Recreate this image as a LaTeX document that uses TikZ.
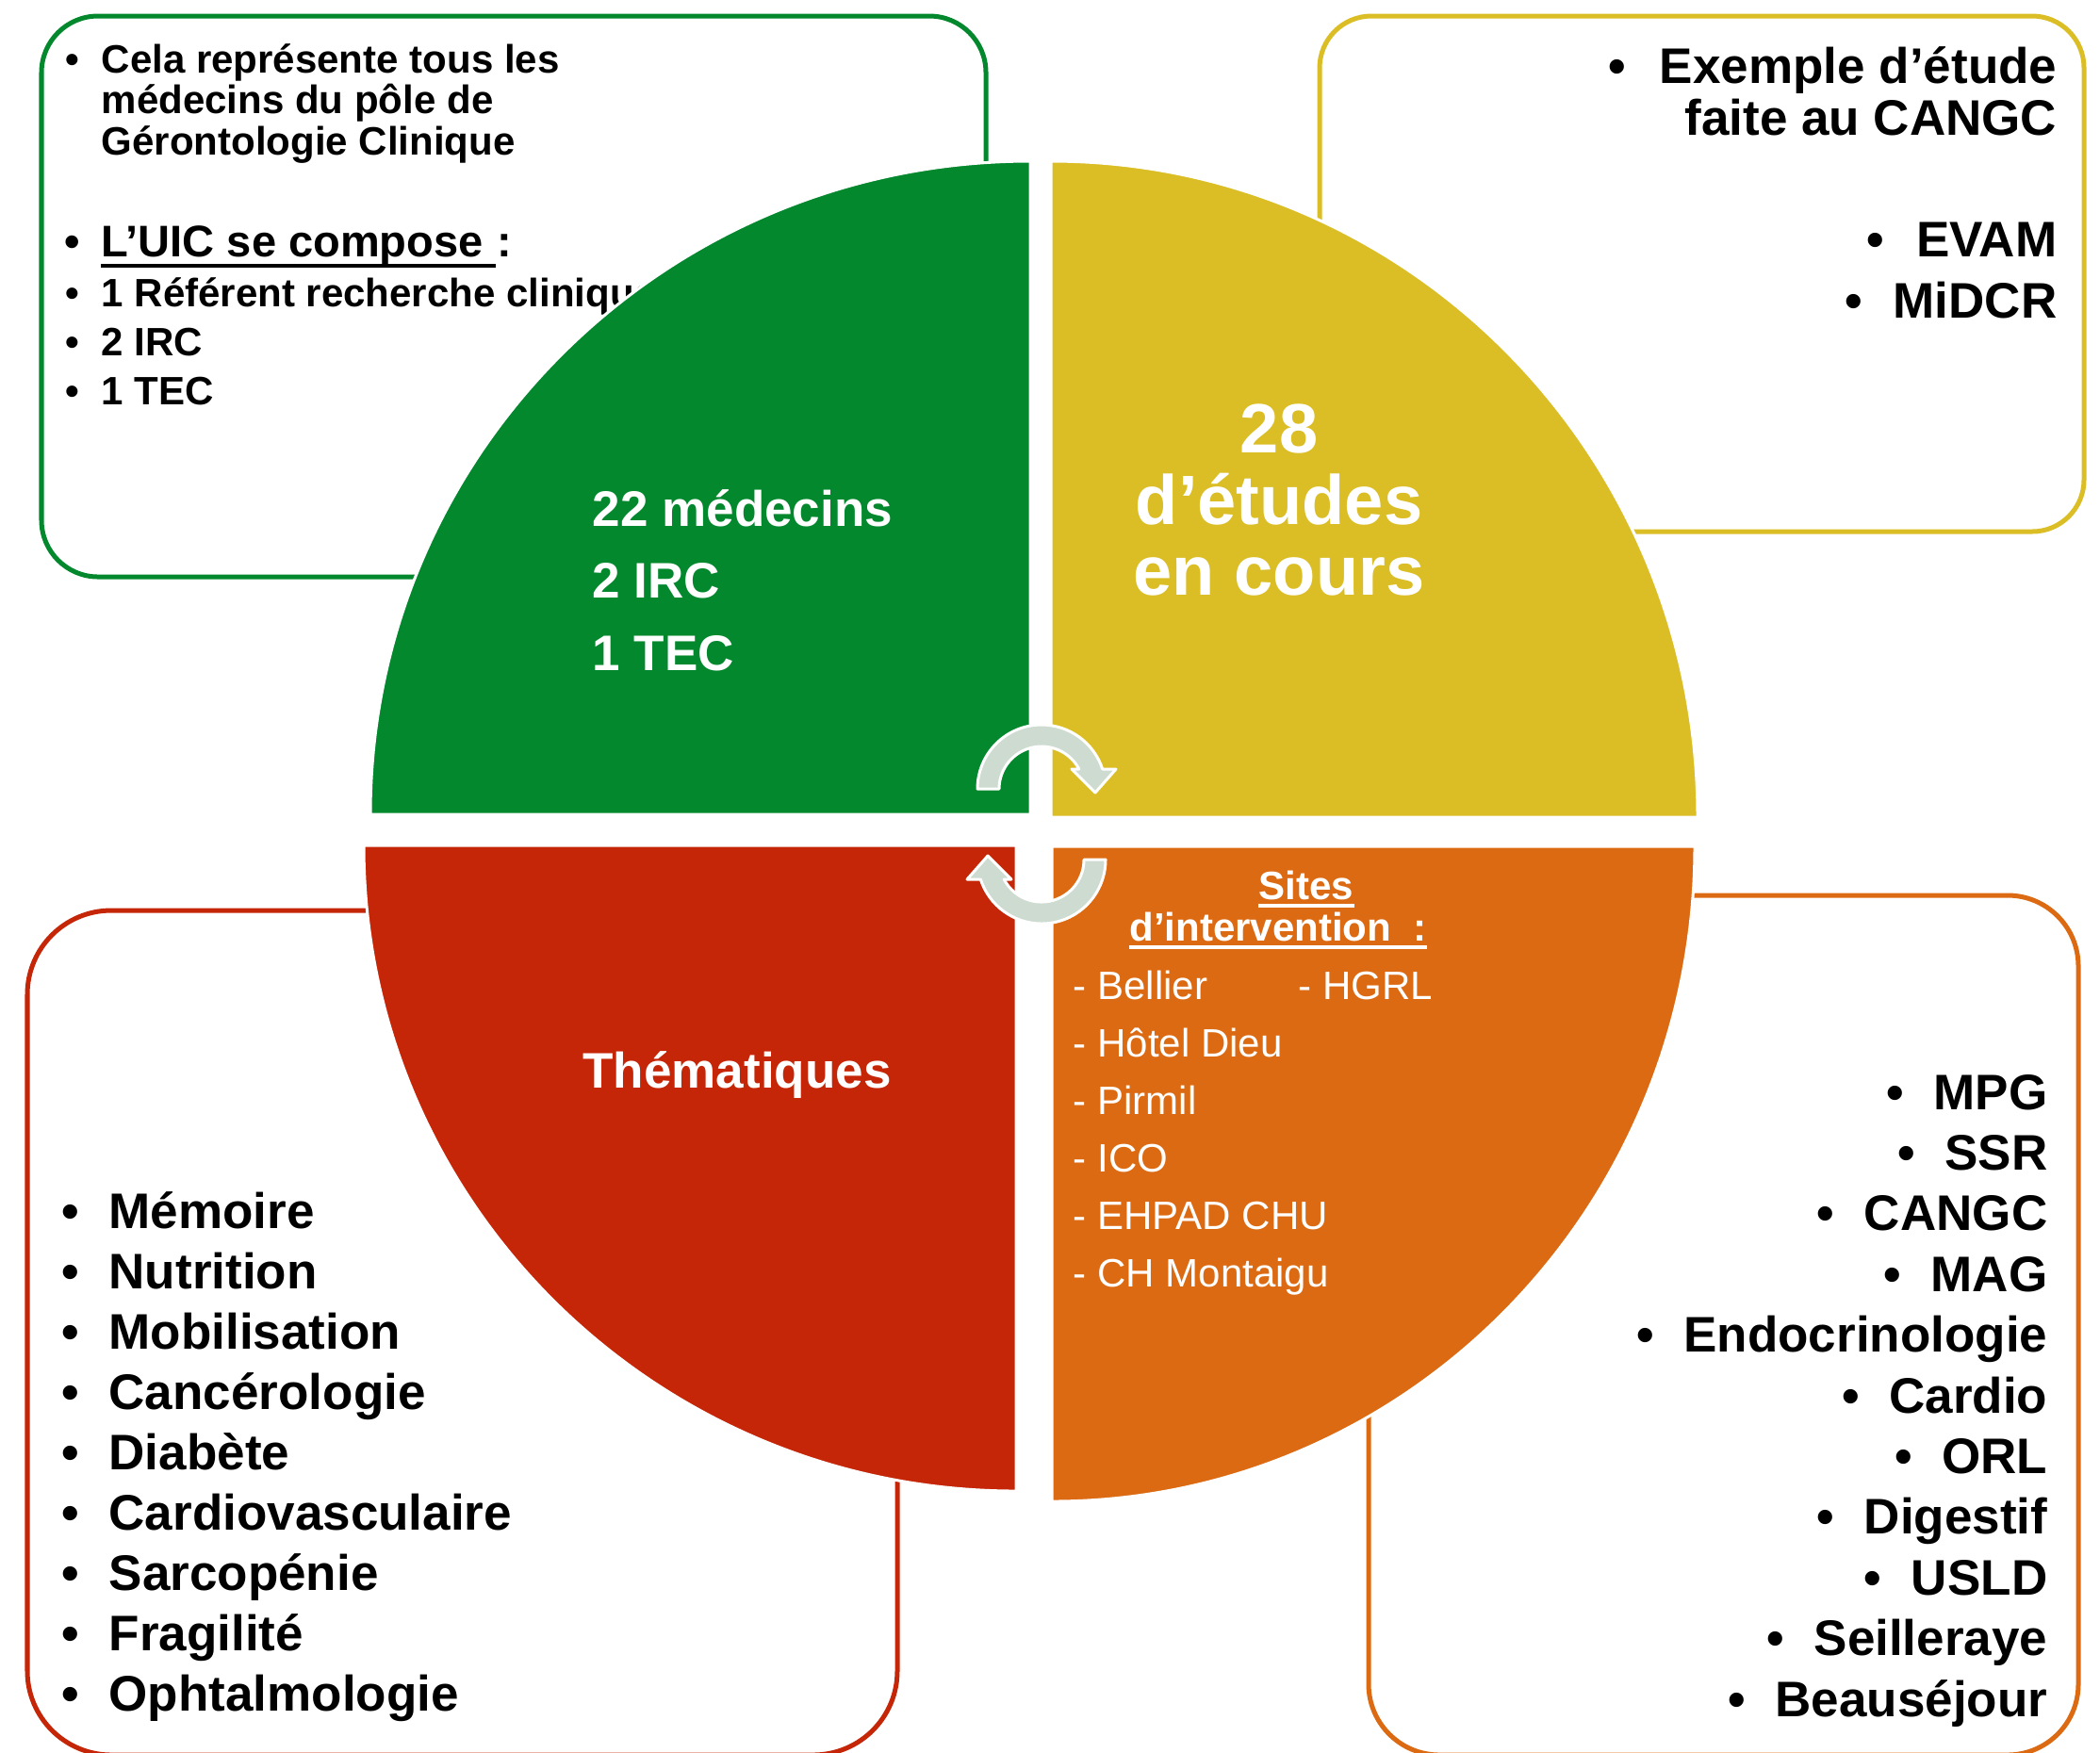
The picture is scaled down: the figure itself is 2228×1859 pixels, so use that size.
\documentclass[tikz,border=0pt]{standalone}
\usepackage{fontspec}
\setmainfont{Liberation Sans}
\usetikzlibrary{calc}
\definecolor{cgreen}{RGB}{3,136,46}
\definecolor{cyellow}{RGB}{219,190,37}
\definecolor{cred}{RGB}{197,38,8}
\definecolor{corange}{RGB}{220,106,18}
\definecolor{carrow}{RGB}{205,219,209}
\begin{document}
\begin{tikzpicture}[x=0.01cm,y=-0.01cm,
  boxline/.style={line width=0.05cm},
  quad/.style={draw=white,line width=0.03cm},
  arrowst/.style={fill=carrow,draw=white,line width=0.03cm,line join=round},
  tA/.style={inner sep=0pt,font=\fontsize{11.95pt}{12.5pt}\selectfont\bfseries},
  tB/.style={inner sep=0pt,font=\fontsize{13.37pt}{14pt}\selectfont\bfseries},
  tC/.style={inner sep=0pt,font=\fontsize{15.08pt}{16pt}\selectfont\bfseries},
  tD/.style={inner sep=0pt,font=\fontsize{21.06pt}{22pt}\selectfont\bfseries,text=white},
  tS/.style={inner sep=0pt,font=\fontsize{11.95pt}{12.5pt}\selectfont,text=white},
  tSb/.style={inner sep=0pt,font=\fontsize{11.95pt}{12.5pt}\selectfont\bfseries,text=white}]
\useasboundingbox (0,0) rectangle (2228,1859);
\clip (0,0) rectangle (2228,1859);
\fill[white] (0,0) rectangle (2228,1859);

% ---------- outline boxes ----------
\draw[boxline,cgreen,rounded corners=0.6cm] (44,17) rectangle (1046,612);
\draw[boxline,cyellow,rounded corners=0.55cm] (1400,17) rectangle (2211,564);
\draw[boxline,cred,rounded corners=0.89cm] (29,966) rectangle (952,1862);
\draw[boxline,corange,rounded corners=0.75cm] (1452,950) rectangle (2205,1862);

% ---------- top-left box text ----------
\node[tA,anchor=base west] (tl1) at (107,77) {Cela représente tous les};
\node[tA,anchor=base west] (tl2) at (107,120) {médecins du pôle de};
\node[tA,anchor=base west] (tl3) at (107,164) {Gérontologie Clinique};
\node[tA,anchor=base] (tlb1) at (77,77) {•};
\node[tB,anchor=base west] (tl4) at (107,272) {L’UIC se compose\ \mbox{}};
\node[tB,anchor=base west] (tl4c) at (tl4.base east) {:};
\draw[line width=0.035cm,black] ($(tl4.base west)+(0,10)$) -- ($(tl4.base east)+(0,10)$);
\node[tB,anchor=base] (tlb4) at (77,272) {•};
\node[tA,anchor=base west] (tl5) at (107,325) {1 Référent recherche clinique};
\node[tA,anchor=base west] (tl6) at (107,377) {2 IRC};
\node[tA,anchor=base west] (tl7) at (107,429) {1 TEC};
\node[tA,anchor=base] (tlb5) at (77,325) {•};
\node[tA,anchor=base] (tlb6) at (77,377) {•};
\node[tA,anchor=base] (tlb7) at (77,429) {•};

% ---------- top-right box text ----------
\node[tC,anchor=base east] (tr1) at (2183,88) {Exemple d’étude};
\node[tC,anchor=base east] (tr2) at (2183,143) {faite au CANGC};
\node[tC,anchor=base] (trb1) at ($(tr1.base west)+(-44,0)$) {•};
\node[tC,anchor=base east] (tr3) at (2183,272) {EVAM};
\node[tC,anchor=base] (trb3) at ($(tr3.base west)+(-43,0)$) {•};
\node[tC,anchor=base east] (tr4) at (2183,337) {MiDCR};
\node[tC,anchor=base] (trb4) at ($(tr4.base west)+(-41,0)$) {•};

% ---------- bottom-left list ----------
\foreach \w [count=\i from 0] in {Mémoire,Nutrition,Mobilisation,Cancérologie,Diabète,Cardiovasculaire,Sarcopénie,Fragilité,Ophtalmologie}{
  \node[tC,anchor=base west] (bl\i) at (115,{1303+64.1*\i}) {\w};
  \node[tC,anchor=base] (blb\i) at (75,{1303+64.1*\i}) {•};
}

% ---------- bottom-right list ----------
\foreach \w [count=\i from 0] in {MPG,SSR,CANGC,MAG,Endocrinologie,Cardio,ORL,Digestif,USLD,Seilleraye,Beauséjour}{
  \node[tC,anchor=base east] (br\i) at (2173,{1177+64.4*\i}) {\w};
  \node[tC,anchor=base] (brb\i) at ($(br\i.base west)+(-40,0)$) {•};
}

% ---------- quadrants ----------
\fill[cgreen,quad] (1093,864) -- (393,864) arc[start angle=180,end angle=270,x radius=700,y radius=693] -- cycle;
\fill[cyellow,quad] (1115,867) -- (1115,171) arc[start angle=270,end angle=360,x radius=686,y radius=696] -- cycle;
\fill[cred,quad] (1078,897) -- (386,897) arc[start angle=180,end angle=90,x radius=692,y radius=685] -- cycle;
\fill[corange,quad] (1116,898) -- (1798,898) arc[start angle=0,end angle=90,x radius=682,y radius=695] -- cycle;

% ---------- quadrant texts ----------
\node[tC,text=white,anchor=base west] (g1) at (628,558) {22 médecins};
\node[tC,text=white,anchor=base west] (g2) at (628,634) {2 IRC};
\node[tC,text=white,anchor=base west] (g3) at (628,711) {1 TEC};

\node[tD,anchor=base] (y1) at (1357,480) {28};
\node[tD,anchor=base] (y2) at (1357,556) {d’études};
\node[tD,anchor=base] (y3) at (1357,631) {en cours};

\node[tC,text=white,anchor=base] (r1) at (782,1154) {Thématiques};

\node[tSb,anchor=base] (o1) at (1386,954) {Sites};
\draw[white,line width=0.035cm] ($(o1.base west)+(0,7)$) -- ($(o1.base east)+(0,7)$);
\node[tSb,anchor=base] (o2) at (1356,998) {d’intervention\ \ :};
\draw[white,line width=0.035cm] ($(o2.base west)+(0,7)$) -- ($(o2.base east)+(0,7)$);
\node[tS,anchor=base west] (s1) at (1138,1060) {- Bellier};
\node[tS,anchor=base west] (s2) at (1377,1060) {- HGRL};
\node[tS,anchor=base west] (s3) at (1138,1121) {- Hôtel Dieu};
\node[tS,anchor=base west] (s4) at (1138,1182) {- Pirmil};
\node[tS,anchor=base west] (s5) at (1138,1243) {- ICO};
\node[tS,anchor=base west] (s6) at (1138,1304) {- EHPAD CHU};
\node[tS,anchor=base west] (s7) at (1138,1365) {- CH Montaigu};

% ---------- circular arrows ----------
\filldraw[arrowst] (1037,837) arc[start angle=180,end angle=342,radius=68]
  -- (1184,816) -- (1162,841) -- (1137,816) -- (1144.8,816)
  arc[start angle=332.2,end angle=180,radius=45] -- cycle;
\filldraw[arrowst] (1173,912) arc[start angle=0,end angle=162,radius=68]
  -- (1026,933) -- (1048,908) -- (1073,933) -- (1065.2,933)
  arc[start angle=152.2,end angle=0,radius=45] -- cycle;
\end{tikzpicture}
\end{document}
